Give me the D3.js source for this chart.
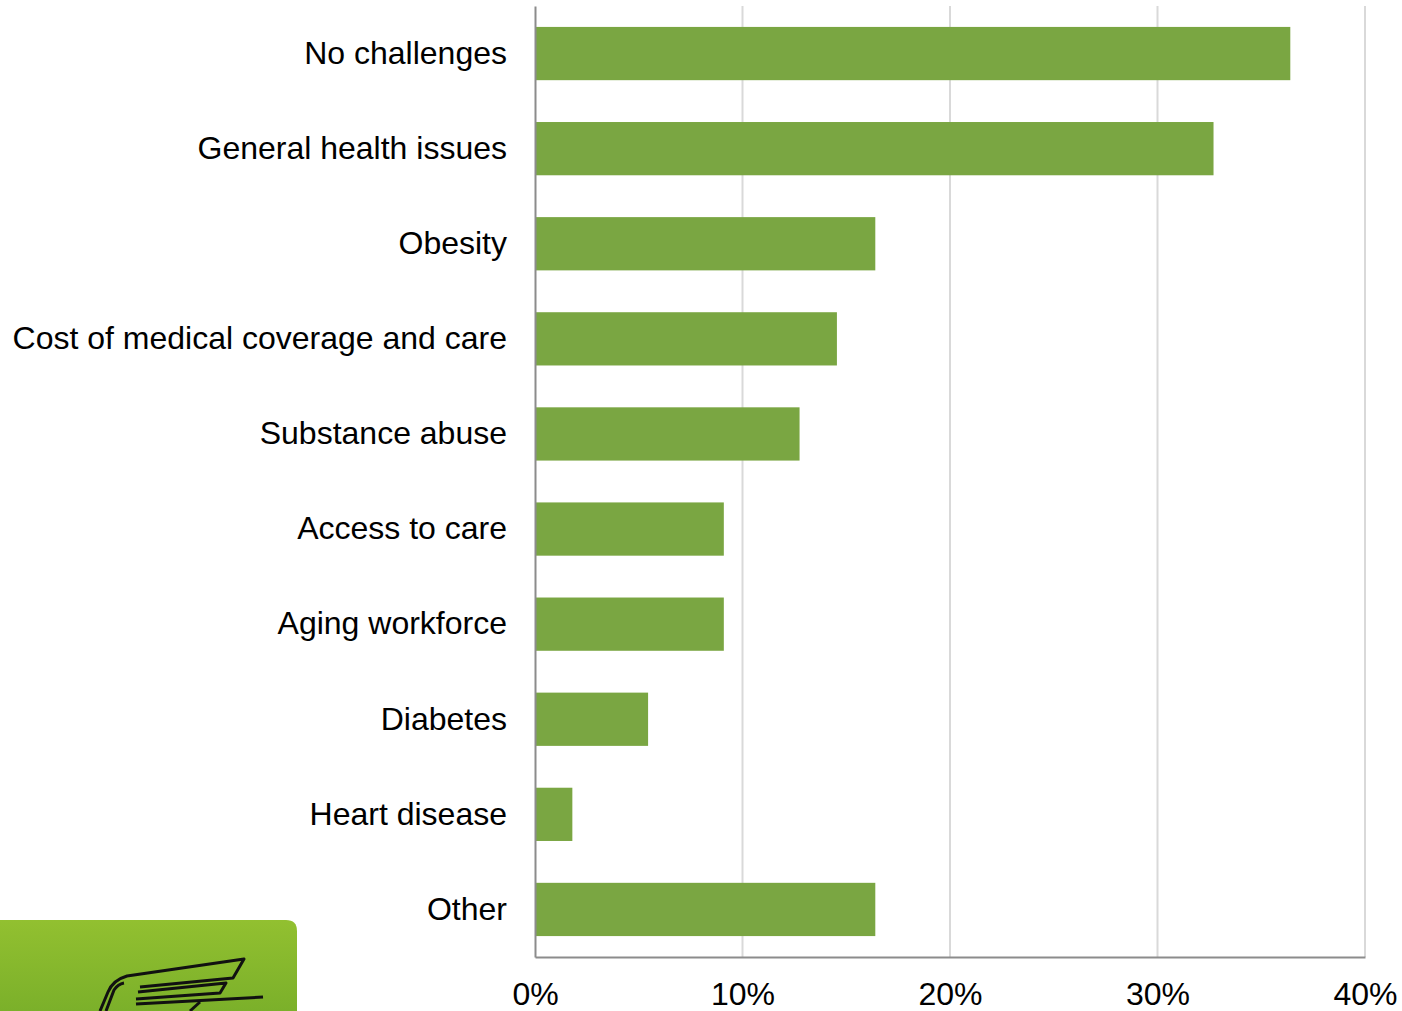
<!DOCTYPE html>
<html>
<head>
<meta charset="utf-8">
<script src="https://cdn.jsdelivr.net/npm/d3@7"></script>
<style>
  html, body { margin: 0; padding: 0; background: #fff; }
  svg { display: block; }
  text { font-family: "Liberation Sans", Arial, sans-serif; fill: #000; }
</style>
</head>
<body>
<svg id="chart" width="1402" height="1011"></svg>
<script>
// Share of respondents naming each workforce health challenge
const categories = [
  "No challenges",
  "General health issues",
  "Obesity",
  "Cost of medical coverage and care",
  "Substance abuse",
  "Access to care",
  "Aging workforce",
  "Diabetes",
  "Heart disease",
  "Other"
];
const values = [36.4, 32.7, 16.4, 14.55, 12.75, 9.1, 9.1, 5.45, 1.8, 16.4];
const tickValues = [0, 10, 20, 30, 40];

const svg = d3.select("#chart");
const margin = { left: 535, right: 37, top: 6, bottom: 54 };
const W = 1402, H = 1011;
const fontSize = 32;

const x = d3.scaleLinear().domain([0, 40]).range([margin.left, W - margin.right]);
const y = d3.scaleBand().domain(categories)
  .range([margin.top, H - margin.bottom]).paddingInner(0.44).paddingOuter(0.22);

// vertical gridlines
svg.append("g").selectAll("line").data(tickValues.slice(1)).join("line")
  .attr("x1", d => x(d)).attr("x2", d => x(d))
  .attr("y1", margin.top).attr("y2", H - margin.bottom)
  .attr("stroke", "#d9d9d9").attr("stroke-width", 2);

// bars
svg.append("g").selectAll("rect").data(values).join("rect")
  .attr("x", x(0))
  .attr("y", (d, i) => y(categories[i]))
  .attr("width", d => x(d) - x(0))
  .attr("height", y.bandwidth())
  .attr("fill", "#7aa642");

// axes
const xAxis = d3.axisBottom(x).tickValues(tickValues).tickFormat(d => d + "%").tickSize(0).tickPadding(25);
const gx = svg.append("g").attr("transform", `translate(0,${H - margin.bottom})`).call(xAxis);
gx.select(".domain").attr("stroke", "#8c8c8c").attr("stroke-width", 2);
gx.selectAll("text").attr("font-size", fontSize).attr("font-family", "Liberation Sans, Arial, sans-serif").attr("fill", "#000");

const yAxis = d3.axisLeft(y).tickSize(0).tickPadding(28);
const gy = svg.append("g").attr("transform", `translate(${margin.left},0)`).call(yAxis);
gy.select(".domain").attr("stroke", "#8c8c8c").attr("stroke-width", 2);
gy.selectAll("text").attr("font-size", fontSize).attr("font-family", "Liberation Sans, Arial, sans-serif").attr("fill", "#000");

// corner badge with a winged emblem
const defs = svg.append("defs");
const grad = defs.append("linearGradient").attr("id", "badge").attr("x1", 0).attr("y1", 0).attr("x2", 0).attr("y2", 1);
grad.append("stop").attr("offset", "0%").attr("stop-color", "#92c030");
grad.append("stop").attr("offset", "100%").attr("stop-color", "#7bb02a");
const badge = svg.append("g");
badge.append("path")
  .attr("d", "M0,920 L286,920 Q297,920 297,931 L297,1011 L0,1011 Z")
  .attr("fill", "url(#badge)");
const wing = badge.append("g").attr("fill", "none").attr("stroke", "#111").attr("stroke-width", 3).attr("stroke-linejoin", "round");
wing.append("path").attr("d", "M100,1011 L108,992 Q113,980 127,976 L244,959 L233,978 L140,987");
wing.append("path").attr("d", "M106,1011 L114,990 Q118,984 124,983");
wing.append("path").attr("d", "M138,992 L226,983 L220,993 L136,999");
wing.append("path").attr("d", "M136,1004 L263,997");
wing.append("path").attr("d", "M200,1002 L190,1011");
</script>
</body>
</html>
